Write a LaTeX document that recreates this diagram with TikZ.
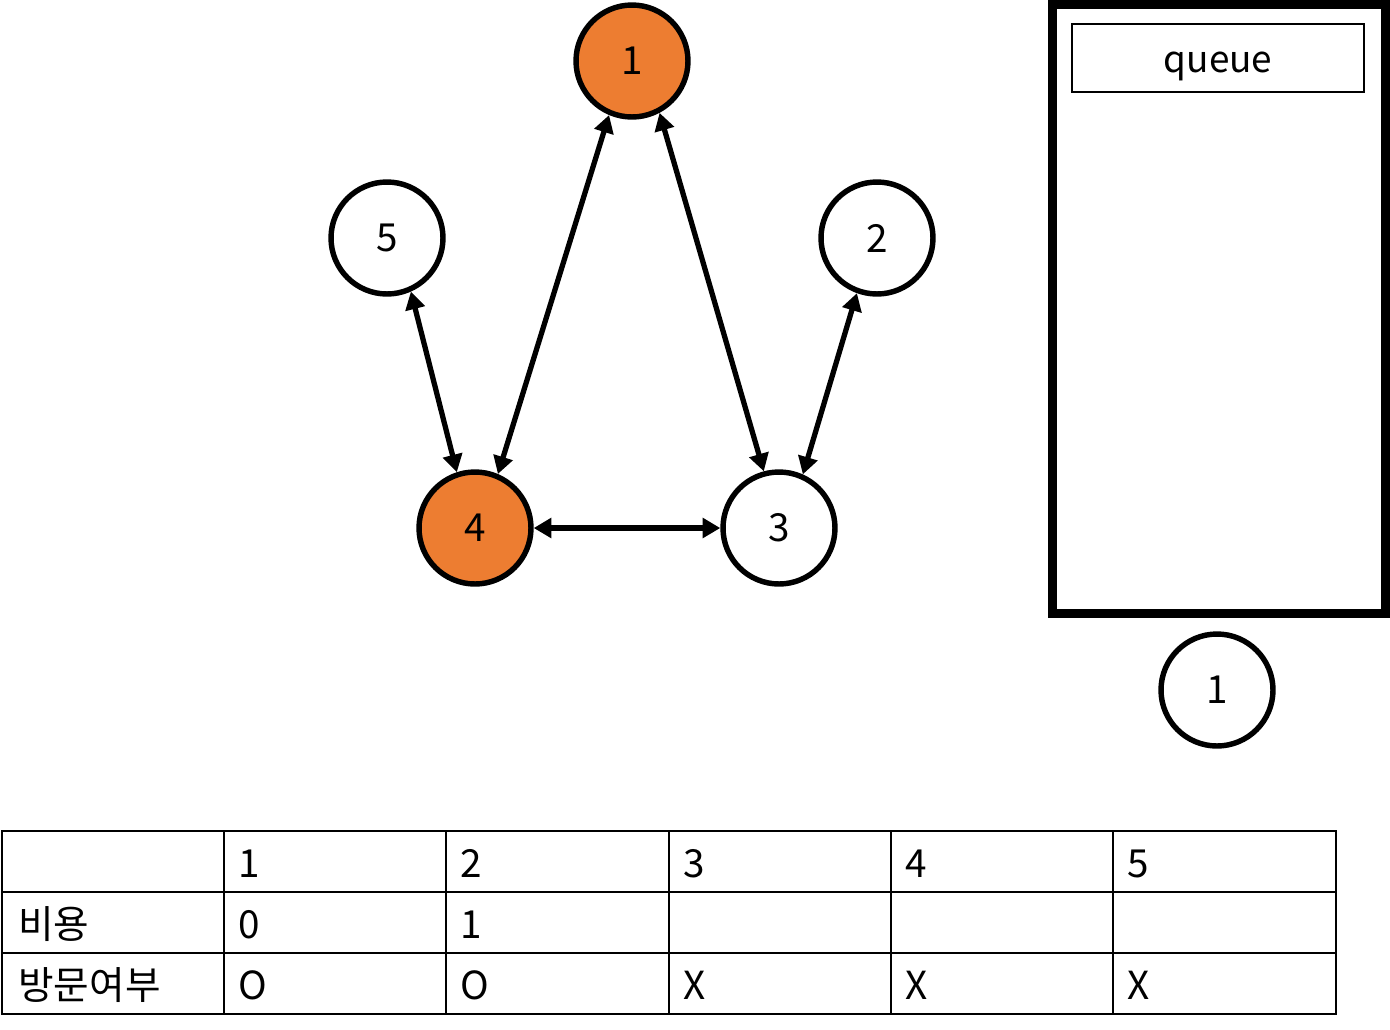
\documentclass[tikz,border=0pt]{standalone}
\usepackage{fontspec}
\setmainfont{Noto Sans CJK KR}
\usepackage{xcolor}
\usetikzlibrary{arrows.meta}
\definecolor{visited}{HTML}{ED7D31}

\begin{document}
\begin{tikzpicture}[x=0.02cm,y=-0.02cm,
	vertex/.style={draw,circle,line width=3.1pt,minimum size=2.24cm,inner sep=0pt,font=\fontsize{22}{26}\selectfont},
	done/.style={vertex,fill=visited},
	edge/.style={line width=3pt,{Triangle[length=10pt,width=11pt]}-{Triangle[length=10pt,width=11pt]}},
	cell/.style={anchor=base west,inner sep=0pt,font=\fontsize{22}{26}\selectfont}]
	\useasboundingbox (0,0) rectangle (1390,1029);

	\node[done] (n1) at (632,61) {1};
	\node[vertex] (n5) at (387,238) {5};
	\node[vertex] (n2) at (877,238) {2};
	\node[done] (n4) at (475,528) {4};
	\node[vertex] (n3) at (779,528) {3};

	\draw[edge] (n1.-113) -- (n4.67);
	\draw[edge] (n1.-62) -- (n3.105);
	\draw[edge] (n5.-66) -- (n4.108);
	\draw[edge] (n2.-110) -- (n3.66);
	\draw[edge] (n4.east) -- (n3.west);

	\draw[line width=5.1pt] (1052.5,4.5) rectangle (1385.5,613.5);
	\node[draw,line width=1.4pt,minimum width=5.84cm,minimum height=1.36cm,text height=17pt,text depth=0pt,font=\fontsize{21}{25}\selectfont] (title) at (1218,58) {queue};
	\node[vertex] (q1) at (1217,690) {1};

	\draw[line width=1.4pt] (2,831) rectangle (1336,1014);
	\draw[line width=1.4pt] (2,892) -- (1336,892);
	\draw[line width=1.4pt] (2,953) -- (1336,953);
	\foreach \x in {224,446,669,891,1113}
		\draw[line width=1.4pt] (\x,831) -- (\x,1014);

	\node[cell] (cost) at (18,938) {비용};
	\node[cell] (seen) at (18,999) {방문여부};
	\foreach \x/\a/\b/\c [count=\i] in {224/1/0/O,446/2/1/O,669/3//X,891/4//X,1113/5//X} {
		\node[cell] (h\i) at (\x+14,877) {\a};
		\node[cell] (c\i) at (\x+14,938) {\b};
		\node[cell] (v\i) at (\x+14,999) {\c};
	}
\end{tikzpicture}
\end{document}
